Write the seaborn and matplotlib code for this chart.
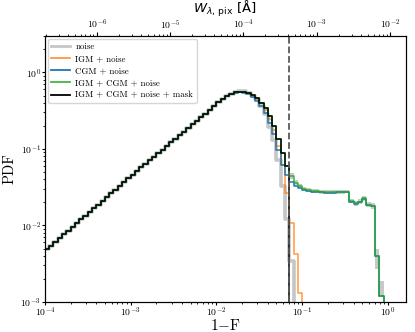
import numpy as np
import matplotlib
matplotlib.use("Agg")
import matplotlib.pyplot as plt
import seaborn as sns
from matplotlib.lines import Line2D

# log bins in 1-F, 20 per decade
edges = np.logspace(-4, 0, 81)
centers = np.sqrt(edges[:-1] * edges[1:])

# rising part, common to all the curves (bins 0..43)
rise = [0.00486, 0.00545, 0.0061, 0.00681, 0.00764, 0.00853, 0.00955, 0.0107,
        0.012, 0.0134, 0.015, 0.0167, 0.0188, 0.021, 0.0234, 0.0263, 0.0294,
        0.033, 0.0368, 0.0412, 0.0461, 0.0516, 0.0575, 0.0641, 0.0714, 0.0796,
        0.0885, 0.0984, 0.11, 0.122, 0.136, 0.151, 0.169, 0.188, 0.21, 0.234,
        0.261, 0.291, 0.325, 0.362, 0.407, 0.446, 0.488, 0.519]

# bins 44..79
noise_tail = [0.56, 0.58, 0.57, 0.545, 0.50, 0.445, 0.37, 0.29, 0.195, 0.132,
              0.072, 0.0333, 0.0122, 0.0034] + [0.0] * 22
igm_tail = [0.551, 0.564, 0.556, 0.537, 0.50, 0.455, 0.395, 0.325, 0.248,
            0.179, 0.11, 0.0624, 0.0267, 0.0108, 0.0042, 0.0013] + [0.0] * 20
cgm_tail = [0.54, 0.55, 0.54, 0.52, 0.48, 0.43, 0.367, 0.297, 0.22, 0.158,
            0.098, 0.0624, 0.0463, 0.037, 0.033, 0.0305, 0.0288, 0.028, 0.0276,
            0.0272, 0.027, 0.0268, 0.0268, 0.0268, 0.027, 0.0272, 0.0274,
            0.0205, 0.0192, 0.0202, 0.0225, 0.0186, 0.0178, 0.004, 0.0012, 0.0]
both_tail = [0.551, 0.564, 0.556, 0.537, 0.502, 0.459, 0.402, 0.345, 0.272,
             0.201, 0.136, 0.0895, 0.0597, 0.044, 0.0364, 0.0325, 0.030, 0.029,
             0.0284, 0.028, 0.0276, 0.0274, 0.0272, 0.0272, 0.0274, 0.0276,
             0.0278, 0.0208, 0.0194, 0.0205, 0.0228, 0.0188, 0.018, 0.004,
             0.0012, 0.0]
mask_tail = [0.551, 0.564, 0.556, 0.537, 0.502, 0.459, 0.402, 0.345, 0.272,
             0.201, 0.136, 0.0895, 0.0597] + [0.0] * 23

# grey scatter band around IGM + CGM + noise, bins 57..79
band_lo = [0.040, 0.034, 0.0305, 0.028, 0.0272, 0.0267, 0.0263, 0.026, 0.0258,
           0.0256, 0.0256, 0.0258, 0.026, 0.0262, 0.0195, 0.018, 0.019, 0.021,
           0.0175, 0.0165, 0.0027, 0.00115, 0.0]
band_hi = [0.048, 0.039, 0.0345, 0.032, 0.0308, 0.0301, 0.0297, 0.0292, 0.029,
           0.0288, 0.0288, 0.029, 0.0292, 0.0294, 0.0222, 0.021, 0.022, 0.0245,
           0.020, 0.0195, 0.005, 0.0019, 0.0006]

series = [
    ("noise", rise + noise_tail, "#a0a0a0", 2.6, 0.6),
    ("IGM + noise", rise + igm_tail, "#ff7f0e", 1.1, 0.8),
    ("CGM + noise", rise + cgm_tail, "#1f77b4", 1.1, 1.0),
    ("IGM + CGM + noise", rise + both_tail, "#22aa22", 1.1, 0.85),
    ("IGM + CGM + noise + mask", rise + mask_tail, "black", 1.1, 1.0),
]

plt.rcParams["font.family"] = "cmr10"
plt.rcParams["mathtext.fontset"] = "cm"
plt.rcParams["axes.formatter.use_mathtext"] = True

fig = plt.figure(figsize=(4.15, 3.32), dpi=100)
ax = fig.add_axes([0.108, 0.0904, 0.870, 0.8012])

ax.fill_between(edges[57:], band_lo + [band_lo[-1]], band_hi + [band_hi[-1]],
                step="post", color="#c8c8c8", lw=0, zorder=1)

handles = []
for name, vals, col, lw, al in series:
    sns.histplot(x=centers, weights=vals, bins=list(edges), element="step",
                 fill=False, color=col, lw=lw, alpha=al, ax=ax, zorder=2)
    handles.append(Line2D([], [], color=col, lw=1.3 if lw < 2 else 2.0,
                          alpha=al, label=name))

ax.axvline(0.0695, color="0.35", ls="--", lw=1.3, zorder=3)

ax.set_xscale("log")
ax.set_yscale("log")
ax.set_xlim(1e-4, 1.62)
ax.set_ylim(1e-3, 3.0)
ax.set_xlabel("1$-$F", fontsize=11)
ax.set_ylabel("PDF", fontsize=10.5)
ax.xaxis.set_label_coords(0.5, -0.06)
ax.yaxis.set_label_coords(-0.078, 0.5)
ax.tick_params(which="major", labelsize=7.0, pad=0.5, length=2.2)
ax.tick_params(which="minor", length=1.4)

ax2 = ax.twiny()
ax2.set_xscale("log")
ax2.set_xlim(1.95e-7, 1.65e-2)
ax2.tick_params(which="major", labelsize=7.0, pad=1.0, length=2.6)
ax2.tick_params(which="minor", length=1.6)
ax2.set_xlabel(r"$W_{\lambda,\,\rm pix}$ [Å]", fontsize=9.5, family="DejaVu Sans",
               math_fontfamily="dejavusans")
ax2.xaxis.set_label_coords(0.5, 1.085)

ax.legend(handles=handles, loc="upper left", fontsize=6.4, handlelength=2.1,
          handletextpad=0.6, borderaxespad=0.35, borderpad=0.4,
          labelspacing=0.42)

fig.savefig("out.png", dpi=100)
